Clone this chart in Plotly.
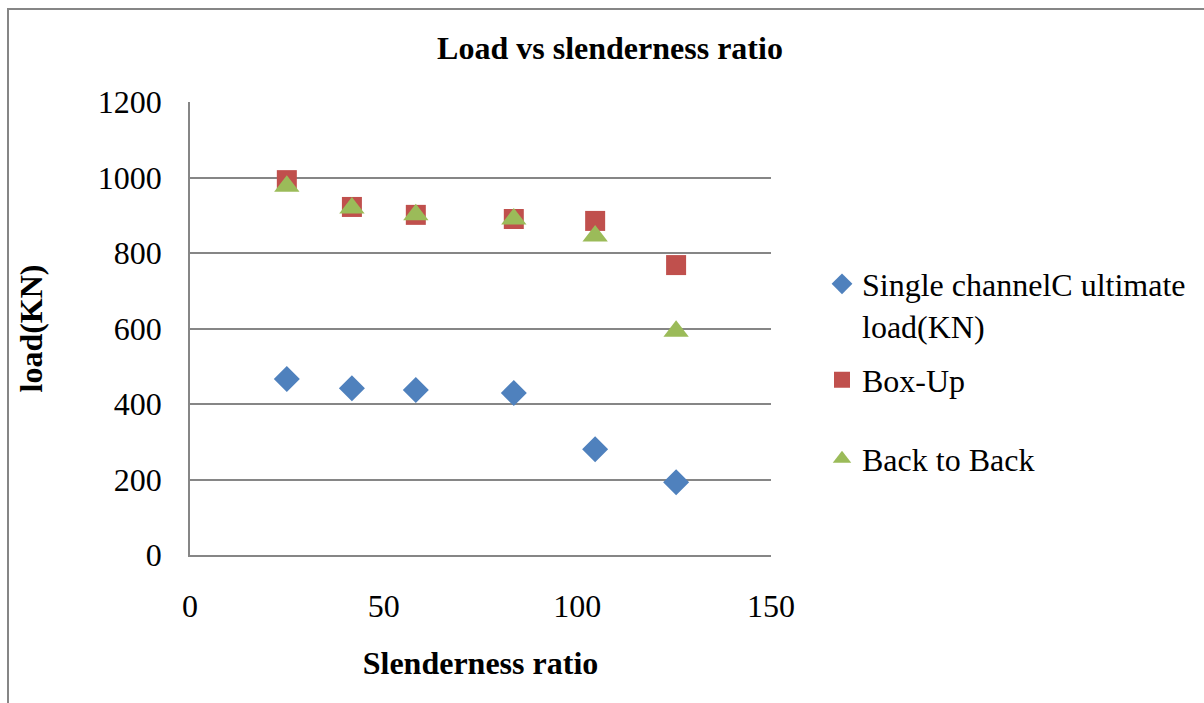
import plotly.graph_objects as go

slenderness = [25.0, 41.8, 58.3, 83.6, 104.6, 125.5]
single_channel = [466, 442, 437, 429, 280, 193]
box_up = [993, 922, 901, 890, 885, 768]
back_to_back = [977, 919, 901, 890, 845, 593]

FONT = "Liberation Serif, Times New Roman, serif"
L, R, T, B = 190, 771, 102, 555
W, H = 1204, 703

def px_x(p):
    return (p - L) / (R - L)

def px_y(p):
    return (B - p) / (B - T)

fig = go.Figure()
fig.add_trace(go.Scatter(x=slenderness, y=single_channel, mode="markers",
                         name="Single channelC ultimate<br>load(KN)",
                         marker=dict(symbol="diamond", size=20, color="#4F81BD"),
                         legend="legend"))
fig.add_trace(go.Scatter(x=slenderness, y=box_up, mode="markers", name="Box-Up",
                         marker=dict(symbol="square", size=20, color="#C0504D"),
                         legend="legend2"))
fig.add_trace(go.Scatter(x=slenderness, y=back_to_back, mode="markers", name="Back to Back",
                         marker=dict(symbol="triangle-up", size=22, color="#9BBB59"),
                         legend="legend3"))

leg_common = dict(font=dict(family=FONT, size=32, color="black"), bgcolor="rgba(0,0,0,0)",
                  xanchor="left", yanchor="middle", itemwidth=30, valign="top",
                  visible=True)
fig.update_layout(
    width=W, height=H,
    showlegend=True,
    margin=dict(l=L, r=W - R, t=T, b=H - B),
    paper_bgcolor="white", plot_bgcolor="white",
    font=dict(family=FONT, color="black"),
    title=dict(text="<b>Load vs slenderness ratio</b>", x=610 / W, xanchor="center",
               y=1 - 48 / H, yanchor="middle", font=dict(family=FONT, size=32, color="black")),
    xaxis=dict(range=[0, 150], tickvals=[0, 50, 100, 150], showgrid=False,
               showline=True, linecolor="#868686", linewidth=1.5, zeroline=False,
               ticks="outside", ticklen=22, tickcolor="rgba(0,0,0,0)",
               tickfont=dict(family=FONT, size=32, color="black"),
               title=dict(text="<b>Slenderness ratio</b>", standoff=28,
                          font=dict(family=FONT, size=32, color="black"))),
    yaxis=dict(range=[0, 1200], tickvals=[0, 200, 400, 600, 800, 1000, 1200],
               showgrid=True, gridcolor="#868686", gridwidth=1.5,
               showline=True, linecolor="#868686", linewidth=1.5, zeroline=False,
               ticks="outside", ticklen=20, tickcolor="rgba(0,0,0,0)",
               tickfont=dict(family=FONT, size=32, color="black"),
               title=dict(text="<b>load(KN)</b>", standoff=46,
                          font=dict(family=FONT, size=32, color="black"))),
    legend=dict(x=px_x(822), y=px_y(305), **leg_common),
    legend2=dict(x=px_x(822), y=px_y(380), **leg_common),
    legend3=dict(x=px_x(822), y=px_y(459), **leg_common),
    shapes=[dict(type="rect", xref="paper", yref="paper",
                 x0=px_x(8), x1=px_x(1215), y0=px_y(715), y1=px_y(9),
                 line=dict(color="#868686", width=2), fillcolor="rgba(0,0,0,0)", layer="below")],
)

fig.write_html("out.html")
